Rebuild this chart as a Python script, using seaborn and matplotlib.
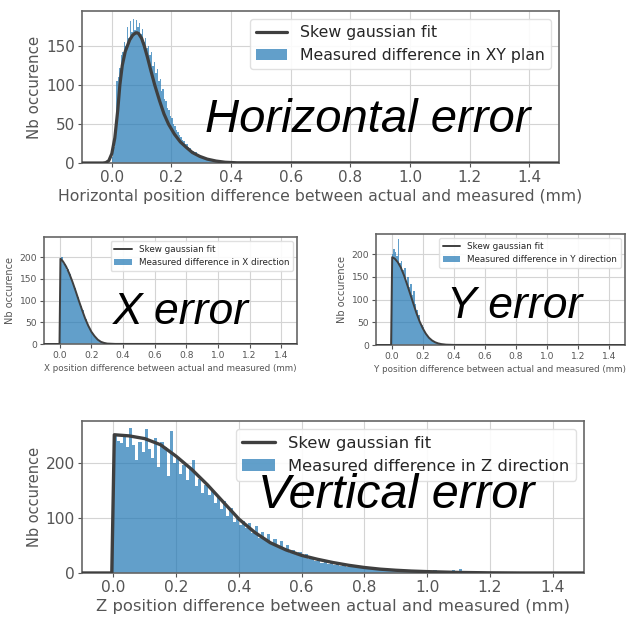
# Error histograms with skew gaussian fits (XY, X, Y and Z position differences)
import numpy as np
import pandas as pd
import matplotlib
matplotlib.use("Agg")
import matplotlib.pyplot as plt
import seaborn as sns

sns.set_style("whitegrid", {"axes.edgecolor": "#666666", "grid.color": "#d4d4d4",
                            "xtick.bottom": True, "ytick.left": True,
                            "xtick.color": "#555555", "ytick.color": "#555555",
                            "axes.labelcolor": "#555555"})
plt.rcParams['font.family'] = ['DejaVu Sans']

# Horizontal (XY plan) - bins of 0.005 mm starting at 0
xy_bin = 0.005
xy_counts = [8, 20, 40, 105, 110, 122, 138, 142, 155, 150, 175, 160, 182, 168, 185, 170,
             183, 175, 180, 165, 172, 155, 160, 148, 150, 138, 142, 125, 130, 115, 120, 105,
             108, 92, 95, 82, 80, 70, 68, 60, 58, 50, 48, 42, 40, 36, 33, 30,
             28, 25, 24, 20, 19, 16, 15, 13, 14, 11, 10, 9, 8, 7, 6, 5,
             5, 4, 4, 3, 3, 2, 2, 1, 1, 1, 1, 0, 1, 0, 0, 0]
xy_fit_x = [-0.10, -0.03, -0.02, -0.01, 0.00, 0.01, 0.015, 0.02, 0.027, 0.035, 0.045, 0.052,
            0.06, 0.07, 0.08, 0.085, 0.09, 0.10, 0.109, 0.12, 0.13, 0.144, 0.16, 0.175,
            0.19, 0.21, 0.23, 0.25, 0.27, 0.295, 0.32, 0.35, 0.38, 0.42, 1.50]
xy_fit_y = [0, 0, 0.5, 3, 12, 32, 50, 68, 100, 125, 143, 150,
            158, 164, 167, 167, 166, 160, 150, 135, 120, 100, 80, 63,
            50, 37, 27, 20, 13.5, 8.5, 5, 2.5, 1, 0.3, 0]

# X direction - bins of 0.01 mm
x_bin = 0.01
x_counts = [190, 200, 185, 183, 170, 172, 160, 148, 140, 128, 118, 108, 97, 88, 78,
            66, 58, 48, 40, 33, 27, 21, 16, 12, 9, 6, 4, 3, 2, 1]
x_fit_x = [-0.10, -0.002, 0.004, 0.02, 0.04, 0.06, 0.08, 0.10, 0.12, 0.14, 0.16,
           0.18, 0.20, 0.22, 0.24, 0.26, 0.28, 0.30, 0.35, 1.50]
x_fit_y = [0, 0, 196, 190, 178, 162, 143, 122, 100, 79, 59,
           42, 28, 18, 10, 5, 2.5, 1, 0.2, 0]

# Y direction - bins of 0.01 mm
y_bin = 0.01
y_counts = [200, 210, 205, 195, 232, 180, 185, 165, 170, 140, 150, 128, 135, 110, 118,
            90, 78, 65, 48, 45, 40, 28, 22, 18, 14, 11, 8, 7, 5, 4, 3, 2, 2, 1, 1]
y_fit_x = [-0.10, -0.003, 0.004, 0.02, 0.04, 0.06, 0.08, 0.10, 0.12, 0.14, 0.16, 0.18,
           0.20, 0.22, 0.24, 0.26, 0.28, 0.30, 0.32, 0.35, 0.40, 1.50]
y_fit_y = [0, 0, 193, 190, 182, 170, 153, 133, 112, 91, 70, 52,
           37, 25, 16, 10, 6, 3.5, 2, 0.8, 0.2, 0]

# Z direction - bins of 0.01 mm
z_bin = 0.01
z_counts = [248, 240, 236, 252, 228, 264, 232, 205, 238, 220,
            262, 226, 208, 246, 192, 238, 228, 176, 258, 200,
            210, 180, 196, 168, 188, 206, 158, 170, 146, 160,
            142, 150, 128, 138, 116, 130, 104, 118, 92, 100,
            88, 95, 82, 90, 72, 86, 64, 74, 60, 70,
            55, 62, 48, 58, 44, 50, 36, 42, 33, 38,
            30, 34, 25, 28, 22, 26, 19, 22, 17, 20,
            15, 17, 13, 15, 11, 13, 10, 11, 9, 10,
            8, 9, 7, 8, 6, 7, 5, 6, 5, 5,
            4, 5, 4, 3, 4, 3, 3, 4, 2, 3,
            3, 2, 6, 3, 2, 4, 2, 3, 5, 2,
            7, 2, 3, 2, 3]
z_fit_x = [-0.10, -0.005, 0.003, 0.05, 0.10, 0.15, 0.20, 0.25, 0.30, 0.35, 0.40, 0.45,
           0.50, 0.55, 0.60, 0.65, 0.70, 0.75, 0.80, 0.85, 0.90, 0.95, 1.00, 1.10,
           1.20, 1.30, 1.50]
z_fit_y = [0, 0, 251, 249, 244, 233, 212, 188, 160, 129, 98, 74,
           55, 42, 32, 25, 19, 14, 10, 7, 5, 3.5, 2.5, 1,
           0.3, 0, 0]

BAR_COLOR = "#1f77b4"
LINE_COLOR = "#3f3f3f"

fig = plt.figure(figsize=(6.27, 6.19), dpi=100)


def axes_px(l, t, r, b):
    # place an axes from pixel box (left, top, right, bottom)
    return fig.add_axes([l / 627, 1 - b / 619, (r - l) / 627, (b - t) / 619])


def panel(ax, counts, bw, fit_x, fit_y, hist_label, xlabel, ymax, yticks, sizes, lw):
    tick_fs, xlab_fs, ylab_fs, leg_fs = sizes
    edges = np.arange(len(counts) + 1) * bw
    df = pd.DataFrame({"pos": edges[:-1] + bw / 2, "n": counts})
    sns.histplot(data=df, x="pos", weights="n", bins=list(edges), color=BAR_COLOR,
                 alpha=0.7, linewidth=0, label=hist_label, ax=ax)
    sns.lineplot(x=fit_x, y=fit_y, color=LINE_COLOR, linewidth=lw,
                 label="Skew gaussian fit", ax=ax, zorder=5)
    ax.set_xlim(-0.1, 1.5)
    ax.set_ylim(0, ymax)
    ax.set_xticks(np.arange(0, 1.41, 0.2))
    ax.set_yticks(yticks)
    ax.tick_params(labelsize=tick_fs, length=3, width=0.8, pad=2)
    ax.set_xlabel(xlabel, fontsize=xlab_fs, labelpad=3)
    ax.set_ylabel("Nb occurence", fontsize=ylab_fs, labelpad=3)
    for s in ax.spines.values():
        s.set_linewidth(1.2)
    h, l = ax.get_legend_handles_labels()
    order = [l.index("Skew gaussian fit"), l.index(hist_label)]
    ax.legend([h[i] for i in order], [l[i] for i in order], loc="upper right",
              fontsize=leg_fs, frameon=True, framealpha=0.9, edgecolor="#dddddd")


ax_xy = axes_px(82, 11, 559, 163)
panel(ax_xy, xy_counts, xy_bin, xy_fit_x, xy_fit_y, "Measured difference in XY plan",
      "Horizontal position difference between actual and measured (mm)",
      195, [0, 50, 100, 150], (11, 11.3, 10.8, 11.3), 2.3)

ax_x = axes_px(44, 237, 297, 344)
panel(ax_x, x_counts, x_bin, x_fit_x, x_fit_y, "Measured difference in X direction",
      "X position difference between actual and measured (mm)",
      246, [0, 50, 100, 150, 200], (6.6, 6.3, 7, 6.3), 1.4)

ax_y = axes_px(376, 234, 625, 345)
panel(ax_y, y_counts, y_bin, y_fit_x, y_fit_y, "Measured difference in Y direction",
      "Y position difference between actual and measured (mm)",
      244, [0, 50, 100, 150, 200], (6.6, 6.3, 7, 6.3), 1.4)

ax_z = axes_px(82, 421, 584, 573)
panel(ax_z, z_counts, z_bin, z_fit_x, z_fit_y, "Measured difference in Z direction",
      "Z position difference between actual and measured (mm)",
      276, [0, 100, 200], (11.2, 11.8, 10.5, 11.8), 2.4)

# big overlay captions
cap = dict(family="Liberation Sans", style="italic", color="black", va="baseline", ha="left")
fig.text(205 / 627, 1 - 132 / 619, "Horizontal error", fontsize=34, **cap)
fig.text(113 / 627, 1 - 324 / 619, "X error", fontsize=32, **cap)
fig.text(447 / 627, 1 - 318 / 619, "Y error", fontsize=32, **cap)
fig.text(258 / 627, 1 - 508 / 619, "Vertical error", fontsize=35, **cap)

fig.savefig("out.png", dpi=100)
